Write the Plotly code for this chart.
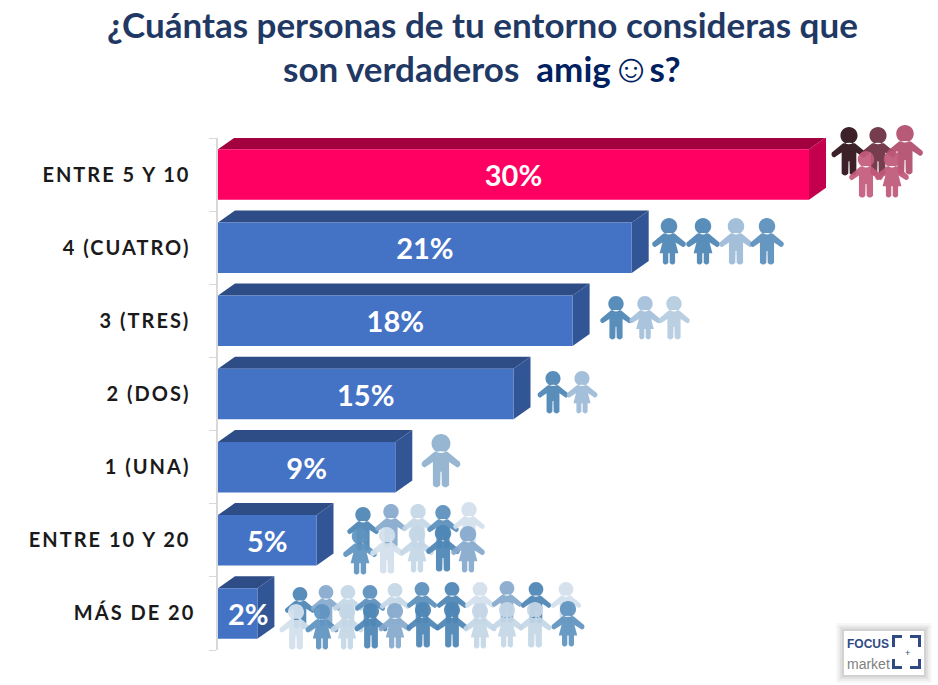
import re
import plotly.graph_objects as go

W, H = 938, 685

categorias = ["ENTRE 5 Y 10", "4 (CUATRO)", "3 (TRES)", "2 (DOS)", "1 (UNA)", "ENTRE 10 Y 20", "MÁS DE 20"]
valores = [30, 21, 18, 15, 9, 5, 2]

# front, top and side face of each bar
color_frente = ["#FF0062"] + ["#4472C4"] * 6
color_arriba = ["#A3003F"] + ["#2E4C85"] * 6
color_lado = ["#C4004E"] + ["#325596"] * 6

# decorative figures: x centre, top, height, colour, kind (pixels of the page)
P1, P2, P3, P4 = "#4E85B5", "#85A9CC", "#C4D6E6", "#D2E0EC"
figuras = [
    (849, 127, 49, "#2E1019", "h"), (878, 127, 49, "#6B2E40", "h"), (905, 125, 50, "#B04E6E", "h"),
    (866, 151, 47, "#C45A7C", "h"), (892, 151, 47, "#C0587A", "m"),
    (669, 218, 47, P1, "m"), (703, 218, 47, P1, "m"), (736, 218, 47, "#9DBAD6", "h"), (767, 218, 47, "#5A8FBC", "h"),
    (616, 296, 44, P1, "h"), (645, 296, 44, "#A5C0DA", "m"), (674, 296, 44, "#B5CCE0", "h"),
    (553, 371, 43, P1, "h"), (582, 371, 43, "#9DBAD6", "m"),
    (441, 434, 54, "#8FB0CE", "h"),
    # 5 % back row, front row
    (363, 507, 44, P1, "h"), (391, 504, 44, P2, "h"), (418, 504, 44, P3, "h"), (443, 505, 44, "#5A8FBC", "h"), (469, 502, 44, P4, "h"),
    (360, 528, 47, "#5F93BF", "m"), (387, 527, 47, P4, "h"), (417, 526, 47, P3, "m"), (443, 525, 47, P1, "h"), (468, 526, 47, P2, "m"),
    # 2 % back row, front row
    (300, 587, 42, P1, "h"), (326, 585, 42, P2, "h"), (348, 585, 42, P3, "h"), (370, 585, 42, "#5A8FBC", "h"), (395, 583, 42, P3, "h"),
    (422, 582, 42, "#5A8FBC", "h"), (452, 582, 42, P1, "h"), (480, 582, 42, P4, "h"), (507, 581, 42, P2, "h"), (536, 582, 42, P1, "h"), (566, 582, 42, P4, "h"),
    (296, 604, 46, P4, "h"), (322, 604, 46, "#5F93BF", "m"), (347, 604, 46, P3, "m"), (371, 603, 46, P1, "h"), (395, 603, 46, P2, "m"),
    (423, 602, 46, P1, "h"), (452, 602, 46, P1, "h"), (480, 603, 46, P3, "m"), (507, 602, 46, P3, "m"), (535, 602, 46, P3, "h"), (568, 601, 46, "#5F93BF", "m"),
]

CABEZA = ("M 0,0 C .097,0 .175,.078 .175,.175 C .175,.272 .097,.35 0,.35 "
          "C -.097,.35 -.175,.272 -.175,.175 C -.175,.078 -.097,0 0,0 Z ")
HOMBRE = CABEZA + ("M -.12,.33 Q 0,.31 .12,.33 L .35,.52 Q .38,.60 .30,.62 L .15,.52 L .15,.95 Q .08,1.03 .015,.95 "
                   "L .01,.70 L -.01,.70 L -.015,.95 Q -.08,1.03 -.15,.95 L -.15,.52 L -.30,.62 Q -.38,.60 -.35,.52 Z")
MUJER = CABEZA + ("M -.12,.33 Q 0,.31 .12,.33 L .35,.52 Q .38,.60 .30,.62 L .14,.52 L .20,.75 L .13,.75 L .13,.95 "
                  "Q .08,1.03 .015,.95 L .015,.75 L -.015,.75 L -.015,.95 Q -.08,1.03 -.13,.95 L -.13,.75 L -.20,.75 "
                  "L -.14,.52 L -.30,.62 Q -.38,.60 -.35,.52 Z")

# plot area in pixels
left, top_, bottom = 218, 138, 650
px_x = 19.7
px_y = (bottom - top_) / len(valores)
ancho = 0.69
dx = 17 / px_x
dy = 12 / px_y


# paper coordinates are relative to the plot area
def pap_x(x):
    return (x - left) / (W - left)


def pap_y(y):
    return 1 - (y - top_) / (bottom - top_)


def figura(cx, top, alto, color, tipo):
    def punto(m):
        x = pap_x(cx + float(m.group(1)) * alto)
        y = pap_y(top + float(m.group(2)) * alto)
        return f"{x:.5f},{y:.5f}"
    path = re.sub(r"(-?[\d.]+),(-?[\d.]+)", punto, HOMBRE if tipo == "h" else MUJER)
    return dict(type="path", xref="paper", yref="paper", path=path, fillcolor=color, line_width=0, opacity=0.93)


def rect_px(x0, y0, x1, y1, **kw):
    return dict(type="rect", xref="paper", yref="paper", x0=pap_x(x0), x1=pap_x(x1), y0=pap_y(y0), y1=pap_y(y1), **kw)


shapes = []
for i, v in enumerate(valores):
    a = i - ancho / 2
    b = i + ancho / 2
    shapes.append(dict(type="path", xref="x", yref="y", line_width=0, fillcolor=color_arriba[i], layer="below",
                       path=f"M 0,{a} L {dx},{a - dy} L {v + dx},{a - dy} L {v},{a} Z"))
    shapes.append(dict(type="path", xref="x", yref="y", line_width=0, fillcolor=color_lado[i], layer="below",
                       path=f"M {v},{a} L {v + dx},{a - dy} L {v + dx},{b - dy} L {v},{b} Z"))

shapes += [figura(*f) for f in figuras]

# logo box with soft shadow
for g, a in [(8, 0.03), (6, 0.04), (4, 0.05), (2, 0.06)]:
    shapes.append(rect_px(844 - g, 631 - g, 924 + g, 675 + g, fillcolor=f"rgba(0,0,0,{a})", line_width=0))
shapes.append(rect_px(844, 631, 924, 675, fillcolor="white", line_width=0))
navy = "#2F4A85"
for x0, y0, x1, y1 in [(892, 635, 895, 647), (892, 635, 902, 638), (918, 635, 921, 647), (910, 635, 921, 638),
                       (892, 659, 895, 669), (892, 666, 902, 669), (918, 659, 921, 669), (910, 666, 921, 669)]:
    shapes.append(rect_px(x0, y0, x1, y1, fillcolor=navy, line_width=0))

fig = go.Figure(go.Bar(
    x=valores,
    y=categorias,
    orientation="h",
    width=ancho,
    marker=dict(color=color_frente, line_width=0),
    # the 2% label sits off-centre, over the side face
    text=[("\u00a0" * 3 if v < 3 else "") + f"{v}%" for v in valores],
    textposition="inside",
    insidetextanchor="middle",
    textangle=0,
    constraintext="none",
    cliponaxis=False,
    textfont=dict(family="Lato", size=29, color="white", weight="bold"),
    hoverinfo="skip",
))

titulo = dict(family="Lato", size=35, color="#1F3864", weight="bold")
annotations = [
    dict(text="¿Cuántas personas de tu entorno consideras que", x=pap_x(482), y=pap_y(24), font=titulo),
    dict(text="son verdaderos  <span style='color:#002060'>amig<span style='font-size:40px;letter-spacing:-2px'>☺</span>s?</span>",
         x=pap_x(482), y=pap_y(67), font=titulo),
    dict(text="FOCUS", x=pap_x(845), y=pap_y(644), xanchor="left",
         font=dict(family="Liberation Sans", size=12, color=navy, weight="bold")),
    dict(text="market", x=pap_x(845), y=pap_y(664), xanchor="left",
         font=dict(family="Liberation Sans", size=14, color="#7F7F7F")),
    dict(text="+", x=pap_x(907), y=pap_y(653), font=dict(family="Liberation Sans", size=9, color=navy)),
]
for an in annotations:
    an.update(xref="paper", yref="paper", showarrow=False)
    an.setdefault("xanchor", "center")
    an["yanchor"] = "middle"

# the labels are letter-spaced; all but the last end a little short of the axis
etiquetas = [f"<span style='letter-spacing:2px'>{c}</span>" + ("" if c.startswith("MÁS") else "\u00a0") for c in categorias]

fig.update_layout(
    width=W,
    height=H,
    margin=dict(l=left, r=0, t=top_, b=H - bottom, pad=0),
    paper_bgcolor="white",
    plot_bgcolor="white",
    showlegend=False,
    shapes=shapes,
    annotations=annotations,
    xaxis=dict(range=[0, (W - left) / px_x], visible=False),
    yaxis=dict(
        type="category",
        categoryorder="array",
        categoryarray=categorias,
        tickmode="array",
        tickvals=categorias,
        ticktext=etiquetas,
        range=[len(valores) - 0.5, -0.5],
        showgrid=False,
        showline=True,
        linecolor="#D9D9D9",
        linewidth=1.5,
        ticks="outside",
        tickson="boundaries",
        ticklen=7,
        tickcolor="#D9D9D9",
        tickwidth=1,
        ticklabelstandoff=17,
        tickfont=dict(family="Lato", size=20, color="#1A1A1A", weight="bold"),
    ),
)

fig.write_html("out.html", config=dict(displayModeBar=False),
               post_script="document.body.style.margin='0';")
